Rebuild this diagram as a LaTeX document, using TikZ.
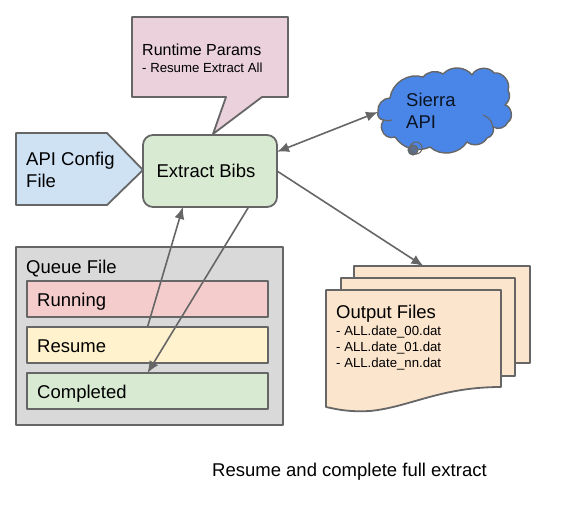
\documentclass[tikz,border=0pt]{standalone}
\usepackage{fontspec}
\setmainfont{Liberation Sans}
\usepackage{xcolor}
\usetikzlibrary{arrows.meta, positioning}
\definecolor{strokegray}{HTML}{666666}
\definecolor{paramspink}{HTML}{EAD1DC}
\definecolor{configblue}{HTML}{CFE2F3}
\definecolor{extractgreen}{HTML}{D9EAD3}
\definecolor{queuegray}{HTML}{D9D9D9}
\definecolor{runningred}{HTML}{F4CCCC}
\definecolor{resumeyellow}{HTML}{FFF2CC}
\definecolor{outputorange}{HTML}{FCE5CD}
\definecolor{sierrablue}{HTML}{4A86E8}
\tikzset{%
	outline/.style={
		draw=strokegray,
		line width=1.8pt,
		line join=round
	},
	flow/.style={
		draw=strokegray,
		line width=1.6pt,
		-{Latex[length=12pt,width=10pt]}
	},
	label text/.style={
		inner sep=0pt,
		anchor=west,
		align=left,
		font=\fontsize{18.5}{22}\selectfont
	},
	queue bar/.style={
		outline,
		anchor=west,
		minimum width=241pt,
		minimum height=36pt,
		outer sep=0pt,
		inner sep=0pt
	},
	sheet/.style={
		outline,
		fill=outputorange,
		anchor=north west,
		outer sep=0pt
	},
}

\begin{document}
\begin{tikzpicture}[x=1pt,y=-1pt]
	\useasboundingbox (0,0) rectangle (564,521);

	% Params callout and config tag
	\draw[outline, fill=paramspink] (132,17) -- (288,17) -- (288,97) -- (262,97) -- (213,134) -- (226,97) -- (132,97) -- cycle;
	\node[label text, font=\fontsize{16}{20}\selectfont] (params) at (142,50) {Runtime Params};
	\node[label text, font=\fontsize{13.2}{16}\selectfont, below=7pt of params.south west, anchor=north west] (paramsnote) {- Resume Extract All};
	\draw[outline, fill=configblue] (16,133) -- (107,133) -- (143,170) -- (107,205) -- (16,205) -- cycle;
	\node[label text] (config) at (26,170) {API Config\\File};

	% Main step
	\node[outline, fill=extractgreen, rounded corners=10pt, minimum width=134pt, minimum height=72pt, outer sep=0pt, font=\fontsize{18.5}{22}\selectfont] (extract) at (210,171) {\hspace{-8pt}Extract Bibs};

	% Cloud
	\draw[outline, line width=1.4pt, fill=sierrablue]
		(378,112) to[bend left=50] (390,98) to[bend left=50] (423,77)
		to[bend left=40] (443,74) to[bend left=50] (472,75) to[bend left=60] (494,73)
		to[bend left=60] (508,90) to[bend left=40] (505,105) to[bend left=70] (508,122)
		to[bend left=50] (493,127) to[bend left=50] (487,138) to[bend left=50] (467,142)
		to[bend left=50] (430,147) to[bend left=40] (395,137) to[bend left=50] (382,130)
		to[bend left=30] (384,120) to[bend left=60] cycle;
	\draw[strokegray, line width=1.1pt] (483,115) to[bend left=30] (493,127);
	\draw[strokegray, line width=1.1pt] (384,120) to[bend right=20] (392,120);
	\draw[strokegray, line width=1.1pt, fill=strokegray!70!sierrablue] (413,150) circle (5pt);
	\draw[strokegray, line width=1pt] (416,148) circle (6pt);
	\node[label text, text=black!85!sierrablue] (sierra) at (406,111) {Sierra\\API};
	\coordinate (sierraport) at (378,112);

	% Queue file
	\node[outline, fill=queuegray, anchor=north west, minimum width=267pt, minimum height=178pt, outer sep=0pt] (queue) at (16,247) {};
	\node[label text, anchor=base west] (queuetitle) at (26,273) {Queue File};
	\foreach \barname/\bartext/\barcolor/\bary in {running/Running/runningred/299, resume/Resume/resumeyellow/345, completed/Completed/extractgreen/391} {
		\node[queue bar, fill=\barcolor] (\barname) at (27,\bary) {};
		\node[label text, anchor=base west] at (37,\bary+7.5) {\bartext};
	}

	% Output files
	\node[sheet, minimum width=176pt, minimum height=97pt] (sheetback) at (354,266) {};
	\node[sheet, minimum width=174pt, minimum height=98pt] (sheetmid) at (341,278) {};
	\draw[outline, fill=outputorange] (326,290) -- (501,290) -- (501,387) .. controls (440,387) and (410,407) .. (370,411) .. controls (350,412) and (340,410) .. (326,407) -- cycle;
	\node[label text, anchor=base west] (output) at (336,318) {Output Files};
	\node[label text, font=\fontsize{13.2}{16}\selectfont, anchor=north west] (outputlist) at (336,326) {- ALL.date\_00.dat\\- ALL.date\_01.dat\\- ALL.date\_nn.dat};

	% Caption
	\node[label text] (caption) at (212,472) {Resume and complete full extract};

	% Connectors
	\draw[flow, {Latex[length=12pt,width=10pt]}-{Latex[length=12pt,width=10pt]}] (extract.16.6) -- (sierraport);
	\draw[flow] (extract.east) -- (sheetback.111.4);
	\draw[flow] (resume.north) -- (extract.233.1);
	\draw[flow] (extract.-43.5) -- (completed.north);
\end{tikzpicture}
\end{document}
